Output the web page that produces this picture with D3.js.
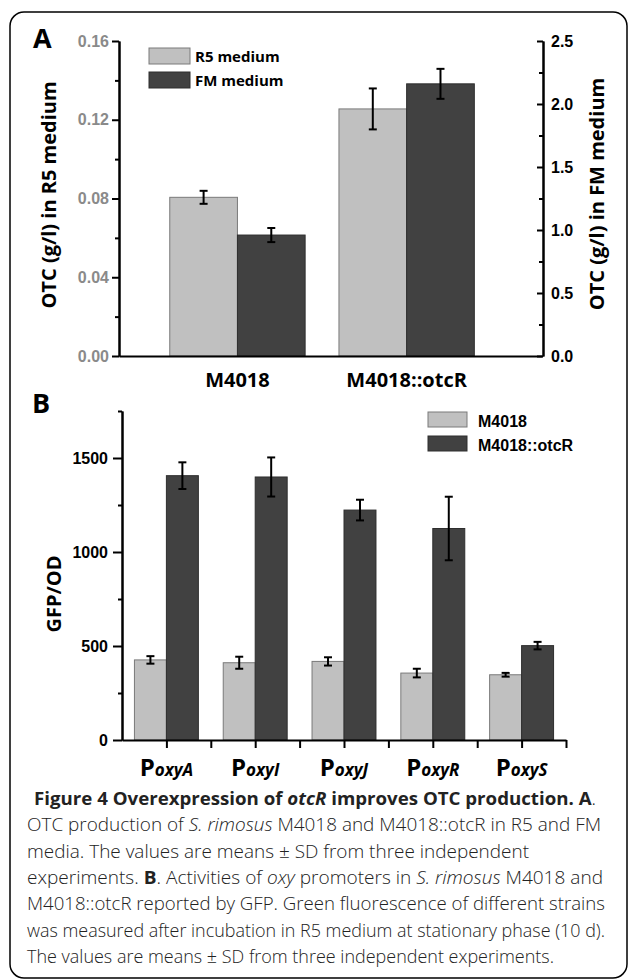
<!DOCTYPE html>
<html>
<head>
<meta charset="utf-8">
<script src="https://cdn.jsdelivr.net/npm/d3@7"></script>
<style>
  body { margin: 0; background: #fff; }
  .axis path, .axis line { stroke: #000; stroke-width: 2; }
  .tick text { font-family: "Liberation Sans", Arial, sans-serif; font-weight: bold; font-size: 16px; }
  .left-a .tick text { fill: #8a8a8a; }
  .title { font-family: "Open Sans", sans-serif; font-weight: bold; }
  .caption { font-family: "Open Sans", sans-serif; font-size: 18px; font-weight: 300; fill: #222; }
</style>
</head>
<body>
<div id="svg-container"></div>
<script>
////////////////////////////  Data  ////////////////////////////
// panel A
const strainsA = ["M4018", "M4018::otcR"];
const r5Values = [0.0806, 0.1255];
const r5Err = [0.0033, 0.0104];
const fmValues = [0.96, 2.16];
const fmErr = [0.056, 0.119];
const leftTicksA = [0, 0.04, 0.08, 0.12, 0.16];
const leftMinorA = [0.02, 0.06, 0.1, 0.14];
const rightTicksA = [0, 0.5, 1, 1.5, 2, 2.5];
const rightMinorA = [0.25, 0.75, 1.25, 1.75, 2.25];

// panel B
const promoters = ["A", "I", "J", "R", "S"];
const m4018Values = [426, 411, 418, 356, 347];
const m4018Err = [20, 32, 22, 23, 10];
const otcRValues = [1406, 1399, 1223, 1125, 502];
const otcRErr = [71, 104, 55, 169, 20];
const ticksB = [0, 500, 1000, 1500];
const minorB = [250, 750, 1250, 1750];

// caption lines: [text, style]
const captionLines = [
  [["Figure 4 Overexpression of ", "b"], ["otcR", "bi"], [" improves OTC production. A", "b"], [".", ""]],
  [["OTC production of ", ""], ["S. rimosus", "i"], [" M4018 and M4018::otcR in R5 and FM", ""]],
  [["media. The values are means \u00b1 SD from three independent", ""]],
  [["experiments. ", ""], ["B", "b"], [". Activities of ", ""], ["oxy", "i"], [" promoters in ", ""], ["S. rimosus", "i"], [" M4018 and", ""]],
  [["M4018::otcR reported by GFP. Green fluorescence of different strains", ""]],
  [["was measured after incubation in R5 medium at stationary phase (10 d).", ""]],
  [["The values are means \u00b1 SD from three independent experiments.", ""]]
];
const captionLeft = [34, 27, 27, 27, 27, 27, 27];
const captionWidth = [562, 574, 502, 576, 578, 578, 527];

const lightFill = "#c0c0c0", lightStroke = "#7a7a7a";
const darkFill = "#414141", darkStroke = "#2e2e2e";

////////////////////////////  Init  ////////////////////////////
const svg = d3.select("#svg-container").append("svg")
  .attr("width", 629).attr("height", 980);

// 테두리
svg.append("rect")
  .attr("x", 10).attr("y", 12).attr("width", 617).attr("height", 966)
  .attr("rx", 14).attr("fill", "none").attr("stroke", "#000").attr("stroke-width", 1.5);

function errorBar(g, x, y0, y1) {
  g.append("line").attr("x1", x).attr("x2", x).attr("y1", y0).attr("y2", y1);
  g.append("line").attr("x1", x - 4).attr("x2", x + 4).attr("y1", y0).attr("y2", y0);
  g.append("line").attr("x1", x - 4).attr("x2", x + 4).attr("y1", y1).attr("y2", y1);
}

////////////////////////////  Panel A  ////////////////////////////
const xA = d3.scaleLinear().domain([-0.7, 1.8]).range([119, 542]);
const yA = d3.scaleLinear().domain([0, 0.16]).range([356, 41]);
const yA2 = d3.scaleLinear().domain([0, 2.5]).range([356, 41]);
const barWA = 0.4;

const gA = svg.append("g");

gA.selectAll(".bar-r5").data(r5Values).join("rect")
  .attr("x", (d, i) => xA(i - barWA))
  .attr("y", (d) => yA(d))
  .attr("width", xA(barWA) - xA(0))
  .attr("height", (d) => yA(0) - yA(d))
  .attr("fill", lightFill).attr("stroke", lightStroke).attr("stroke-width", 1);

gA.selectAll(".bar-fm").data(fmValues).join("rect")
  .attr("x", (d, i) => xA(i))
  .attr("y", (d) => yA2(d))
  .attr("width", xA(barWA) - xA(0))
  .attr("height", (d) => yA2(0) - yA2(d))
  .attr("fill", darkFill).attr("stroke", darkStroke).attr("stroke-width", 1);

const errA = gA.append("g").attr("stroke", "#000").attr("stroke-width", 2);
r5Values.forEach((v, i) => errorBar(errA, xA(i - barWA / 2), yA(v + r5Err[i]), yA(v - r5Err[i])));
fmValues.forEach((v, i) => errorBar(errA, xA(i + barWA / 2), yA2(v + fmErr[i]), yA2(v - fmErr[i])));

// axes
gA.append("g").attr("class", "axis")
  .attr("transform", `translate(0,${yA(0)})`)
  .call(d3.axisBottom(xA).tickValues([]).tickSizeOuter(0));

gA.append("g").attr("class", "axis left-a")
  .attr("transform", `translate(${xA.range()[0]},0)`)
  .call(d3.axisLeft(yA).tickValues(leftTicksA).tickSize(7).tickPadding(3)
    .tickSizeOuter(0).tickFormat(d3.format(".2f")));
gA.append("g").attr("class", "axis")
  .attr("transform", `translate(${xA.range()[0]},0)`)
  .call(d3.axisLeft(yA).tickValues(leftMinorA).tickSize(4).tickSizeOuter(0).tickFormat(""));

gA.append("g").attr("class", "axis")
  .attr("transform", `translate(${xA.range()[1] + 1},0)`)
  .call(d3.axisRight(yA2).tickValues(rightTicksA).tickSize(-6).tickPadding(8)
    .tickSizeOuter(0).tickFormat(d3.format(".1f")));
gA.append("g").attr("class", "axis")
  .attr("transform", `translate(${xA.range()[1] + 1},0)`)
  .call(d3.axisRight(yA2).tickValues(rightMinorA).tickSize(-4).tickSizeOuter(0).tickFormat(""));

// 카테고리 라벨
gA.selectAll(".cat").data(strainsA).join("text")
  .attr("class", "title")
  .attr("x", (d, i) => xA(i)).attr("y", 387)
  .attr("text-anchor", "middle").attr("font-size", 20)
  .text((d) => d);

gA.append("text").attr("class", "title")
  .attr("transform", "translate(56,195) rotate(-90)")
  .attr("text-anchor", "middle").attr("font-size", 20)
  .text("OTC (g/l) in R5 medium");
gA.append("text").attr("class", "title")
  .attr("transform", "translate(604,194) rotate(-90)")
  .attr("text-anchor", "middle").attr("font-size", 20)
  .text("OTC (g/l) in FM medium");

gA.append("text").attr("class", "title")
  .attr("x", 33).attr("y", 48).attr("font-size", 27).text("A");

// legend A
const legendA = [["R5 medium", lightFill, lightStroke], ["FM medium", darkFill, darkStroke]];
legendA.forEach((l, i) => {
  gA.append("rect").attr("x", 149).attr("y", 48 + i * 24).attr("width", 41).attr("height", 16)
    .attr("fill", l[1]).attr("stroke", l[2]);
  gA.append("text").attr("class", "title").attr("x", 195).attr("y", 62 + i * 24)
    .attr("font-size", 15).text(l[0]);
});

////////////////////////////  Panel B  ////////////////////////////
const xB = d3.scaleLinear().domain([0, 5]).range([122, 566]);
const yB = d3.scaleLinear().domain([0, 1750]).range([740, 411]);
const barWB = 0.36;

const gB = svg.append("g");

gB.selectAll(".bar-m").data(m4018Values).join("rect")
  .attr("x", (d, i) => xB(i + 0.5 - barWB))
  .attr("y", (d) => yB(d))
  .attr("width", xB(barWB) - xB(0))
  .attr("height", (d) => yB(0) - yB(d))
  .attr("fill", lightFill).attr("stroke", lightStroke).attr("stroke-width", 1);

gB.selectAll(".bar-o").data(otcRValues).join("rect")
  .attr("x", (d, i) => xB(i + 0.5))
  .attr("y", (d) => yB(d))
  .attr("width", xB(barWB) - xB(0))
  .attr("height", (d) => yB(0) - yB(d))
  .attr("fill", darkFill).attr("stroke", darkStroke).attr("stroke-width", 1);

const errB = gB.append("g").attr("stroke", "#000").attr("stroke-width", 2);
m4018Values.forEach((v, i) => errorBar(errB, xB(i + 0.5 - barWB / 2), yB(v + m4018Err[i]), yB(v - m4018Err[i])));
otcRValues.forEach((v, i) => errorBar(errB, xB(i + 0.5 + barWB / 2), yB(v + otcRErr[i]), yB(v - otcRErr[i])));

gB.append("g").attr("class", "axis")
  .attr("transform", `translate(0,${yB(0)})`)
  .call(d3.axisBottom(xB).tickValues(d3.range(1, 11).map((d) => d / 2))
    .tickSize(8).tickSizeOuter(0).tickFormat(""));

gB.append("g").attr("class", "axis")
  .attr("transform", `translate(${xB(0)},0)`)
  .call(d3.axisLeft(yB).tickValues(ticksB).tickSize(9).tickPadding(5)
    .tickSizeOuter(0).tickFormat(d3.format("d")));
gB.append("g").attr("class", "axis")
  .attr("transform", `translate(${xB(0)},0)`)
  .call(d3.axisLeft(yB).tickValues(minorB).tickSize(4).tickSizeOuter(0).tickFormat(""));

// Poxy 라벨
const labB = gB.selectAll(".plab").data(promoters).join("text")
  .attr("class", "title")
  .attr("x", (d, i) => xB(i + 0.5)).attr("y", 776)
  .attr("text-anchor", "middle");
labB.append("tspan").attr("font-size", 24).text("P");
labB.append("tspan").attr("font-size", 17).attr("font-style", "italic").text((d) => "oxy" + d);

gB.append("text").attr("class", "title")
  .attr("transform", "translate(61,594) rotate(-90)")
  .attr("text-anchor", "middle").attr("font-size", 20)
  .text("GFP/OD");

gB.append("text").attr("class", "title")
  .attr("x", 32).attr("y", 413).attr("font-size", 27).text("B");

// legend B
const legendB = [["M4018", lightFill, lightStroke], ["M4018::otcR", darkFill, darkStroke]];
legendB.forEach((l, i) => {
  gB.append("rect").attr("x", 428).attr("y", 412 + i * 24).attr("width", 39).attr("height", 15)
    .attr("fill", l[1]).attr("stroke", l[2]);
  gB.append("text").attr("x", 478).attr("y", 427 + i * 24)
    .attr("font-family", "'Liberation Sans', Arial, sans-serif").attr("font-weight", "bold")
    .attr("font-size", 16).text(l[0]);
});

////////////////////////////  Caption  ////////////////////////////
captionLines.forEach((line, i) => {
  const t = svg.append("text").attr("class", "caption")
    .attr("x", captionLeft[i]).attr("y", 805 + i * 26.3)
    .attr("textLength", captionWidth[i]).attr("lengthAdjust", "spacingAndGlyphs");
  line.forEach((part) => {
    t.append("tspan")
      .attr("font-weight", part[1].includes("b") ? "bold" : null)
      .attr("font-style", part[1].includes("i") ? "italic" : null)
      .text(part[0]);
  });
});
</script>
</body>
</html>
